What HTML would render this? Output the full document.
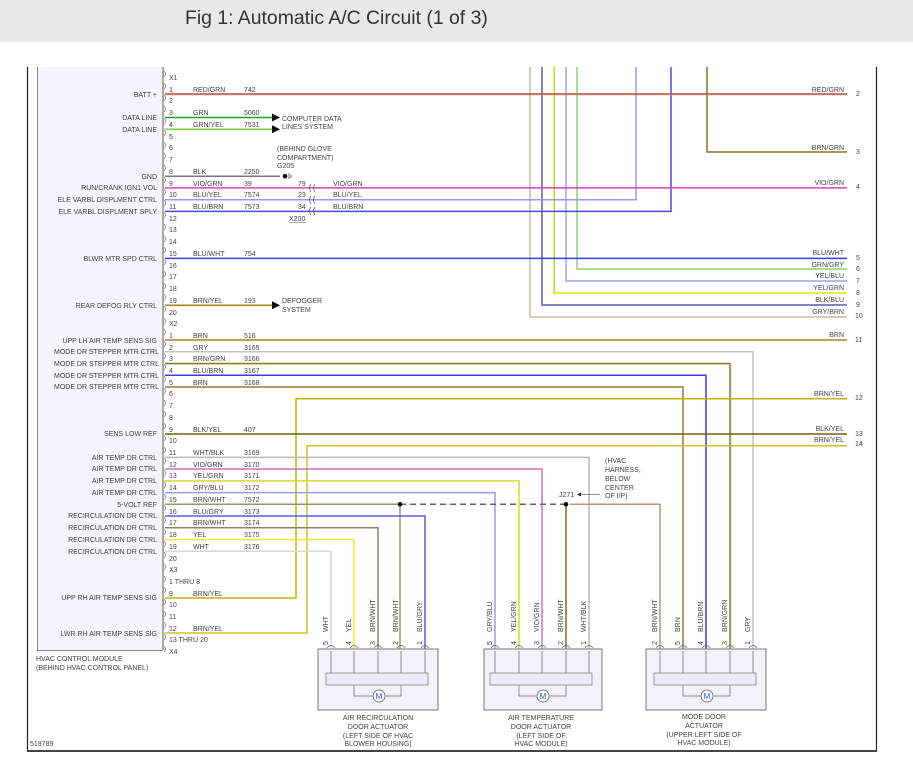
<!DOCTYPE html>
<html><head><meta charset="utf-8"><style>
html,body{margin:0;padding:0;background:#fff;width:913px;height:765px;overflow:hidden}
svg{display:block}
text{font-family:"Liberation Sans",sans-serif;font-size:7px;fill:#444}
.t{font-size:19.4px;fill:#333}
.r{text-anchor:end}
.m{text-anchor:middle}
</style></head><body>
<svg width="913" height="765" viewBox="0 0 913 765" xmlns="http://www.w3.org/2000/svg">
<rect x="0" y="0" width="913" height="42" fill="#e9e9e9"/>
<text x="185" y="24" class="t">Fig 1: Automatic A/C Circuit (1 of 3)</text>
<!-- frame -->
<line x1="27.5" y1="67" x2="27.5" y2="752" stroke="#222" stroke-width="1.2"/>
<line x1="876.5" y1="67" x2="876.5" y2="752" stroke="#222" stroke-width="1.2"/>
<line x1="27" y1="751" x2="877" y2="751" stroke="#444" stroke-width="2"/>
<!-- module -->
<rect x="37" y="67" width="126" height="583" fill="#f3f4fc"/>
<path d="M37.5 67V650.5H163" fill="none" stroke="#888" stroke-width="1"/>
<line x1="163" y1="67" x2="163" y2="650" stroke="#aaa" stroke-width="2"/>
<text x="36" y="661">HVAC CONTROL MODULE</text>
<text x="36" y="670">(BEHIND HVAC CONTROL PANEL)</text>
<text x="30" y="746">519789</text>

<!-- module labels -->
<g class="r">
<text x="157" y="97" class="r">BATT +</text>
<text x="157" y="120" class="r">DATA LINE</text>
<text x="157" y="132" class="r">DATA LINE</text>
<text x="157" y="179" class="r">GND</text>
<text x="157" y="190" class="r">RUN/CRANK IGN1 VOL</text>
<text x="157" y="202" class="r">ELE VARBL DISPLMENT CTRL</text>
<text x="157" y="214" class="r">ELE VARBL DISPLMENT SPLY</text>
<text x="157" y="261" class="r">BLWR MTR SPD CTRL</text>
<text x="157" y="308" class="r">REAR DEFOG RLY CTRL</text>
<text x="157" y="343" class="r">UPP LH AIR TEMP SENS SIG</text>
<text x="159" y="354" class="r">MODE DR STEPPER MTR CTRL</text>
<text x="159" y="366" class="r">MODE DR STEPPER MTR CTRL</text>
<text x="159" y="378" class="r">MODE DR STEPPER MTR CTRL</text>
<text x="159" y="389" class="r">MODE DR STEPPER MTR CTRL</text>
<text x="157" y="436" class="r">SENS LOW REF</text>
<text x="157" y="460" class="r">AIR TEMP DR CTRL</text>
<text x="157" y="471" class="r">AIR TEMP DR CTRL</text>
<text x="157" y="483" class="r">AIR TEMP DR CTRL</text>
<text x="157" y="495" class="r">AIR TEMP DR CTRL</text>
<text x="157" y="507" class="r">5-VOLT REF</text>
<text x="157" y="518" class="r">RECIRCULATION DR CTRL</text>
<text x="157" y="530" class="r">RECIRCULATION DR CTRL</text>
<text x="157" y="542" class="r">RECIRCULATION DR CTRL</text>
<text x="157" y="554" class="r">RECIRCULATION DR CTRL</text>
<text x="157" y="600" class="r">UPP RH AIR TEMP SENS SIG</text>
<text x="157" y="636" class="r">LWR RH AIR TEMP SENS SIG</text>
</g>

<!-- pin numbers -->
<g>
<text x="169" y="80">X1</text>
<text x="169" y="92">1</text><text x="169" y="103">2</text><text x="169" y="115">3</text><text x="169" y="127">4</text><text x="169" y="139">5</text>
<text x="169" y="150">6</text><text x="169" y="162">7</text><text x="169" y="174">8</text><text x="169" y="186">9</text><text x="169" y="197">10</text>
<text x="169" y="209">11</text><text x="169" y="221">12</text><text x="169" y="232">13</text><text x="169" y="244">14</text><text x="169" y="256">15</text>
<text x="169" y="268">16</text><text x="169" y="279">17</text><text x="169" y="291">18</text><text x="169" y="303">19</text><text x="169" y="315">20</text>
<text x="169" y="326">X2</text>
<text x="169" y="338">1</text><text x="169" y="350">2</text><text x="169" y="361">3</text><text x="169" y="373">4</text><text x="169" y="385">5</text>
<text x="169" y="396">6</text><text x="169" y="408">7</text><text x="169" y="420">8</text><text x="169" y="432">9</text><text x="169" y="443">10</text>
<text x="169" y="455">11</text><text x="169" y="467">12</text><text x="169" y="478">13</text><text x="169" y="490">14</text><text x="169" y="502">15</text>
<text x="169" y="514">16</text><text x="169" y="525">17</text><text x="169" y="537">18</text><text x="169" y="549">19</text><text x="169" y="561">20</text>
<text x="169" y="572">X3</text>
<text x="169" y="584">1 THRU 8</text><text x="169" y="596">9</text><text x="169" y="607">10</text><text x="169" y="619">11</text><text x="169" y="631">12</text>
<text x="169" y="642">13 THRU 20</text><text x="169" y="654">X4</text>
</g>
<g fill="none" stroke="#888" stroke-width="0.8">
<path d="M164 71q3 3 0 6M164 83q3 3 0 6M164 95q3 3 0 6M164 106q3 3 0 6M164 118q3 3 0 6M164 130q3 3 0 6M164 142q3 3 0 6M164 153q3 3 0 6M164 165q3 3 0 6M164 177q3 3 0 6M164 189q3 3 0 6M164 200q3 3 0 6M164 212q3 3 0 6M164 224q3 3 0 6M164 236q3 3 0 6M164 247q3 3 0 6M164 259q3 3 0 6M164 271q3 3 0 6M164 283q3 3 0 6M164 294q3 3 0 6M164 306q3 3 0 6M164 318q3 3 0 6"/>
<path d="M164 329q3 3 0 6M164 341q3 3 0 6M164 353q3 3 0 6M164 364q3 3 0 6M164 376q3 3 0 6M164 388q3 3 0 6M164 400q3 3 0 6M164 411q3 3 0 6M164 423q3 3 0 6M164 435q3 3 0 6M164 447q3 3 0 6M164 458q3 3 0 6M164 470q3 3 0 6M164 482q3 3 0 6M164 494q3 3 0 6M164 505q3 3 0 6M164 517q3 3 0 6M164 529q3 3 0 6M164 541q3 3 0 6M164 552q3 3 0 6M164 564q3 3 0 6"/>
<path d="M164 576q3 3 0 6M164 587q3 3 0 6M164 599q3 3 0 6M164 611q3 3 0 6M164 622q3 3 0 6M164 634q3 3 0 6M164 646q3 3 0 6"/>
</g>

<!-- color/number labels on left wires -->
<g>
<text x="193" y="92">RED/GRN</text><text x="244" y="92">742</text>
<text x="193" y="115">GRN</text><text x="244" y="115">5060</text>
<text x="193" y="127">GRN/YEL</text><text x="244" y="127">7531</text>
<text x="193" y="174">BLK</text><text x="244" y="174">2250</text>
<text x="193" y="186">VIO/GRN</text><text x="244" y="186">39</text>
<text x="193" y="197">BLU/YEL</text><text x="244" y="197">7574</text>
<text x="193" y="209">BLU/BRN</text><text x="244" y="209">7573</text>
<text x="193" y="256">BLU/WHT</text><text x="244" y="256">754</text>
<text x="193" y="303">BRN/YEL</text><text x="244" y="303">193</text>
<text x="193" y="338">BRN</text><text x="244" y="338">516</text>
<text x="193" y="350">GRY</text><text x="244" y="350">3165</text>
<text x="193" y="361">BRN/GRN</text><text x="244" y="361">3166</text>
<text x="193" y="373">BLU/BRN</text><text x="244" y="373">3167</text>
<text x="193" y="385">BRN</text><text x="244" y="385">3168</text>
<text x="193" y="432">BLK/YEL</text><text x="244" y="432">407</text>
<text x="193" y="455">WHT/BLK</text><text x="244" y="455">3169</text>
<text x="193" y="467">VIO/GRN</text><text x="244" y="467">3170</text>
<text x="193" y="478">YEL/GRN</text><text x="244" y="478">3171</text>
<text x="193" y="490">GRY/BLU</text><text x="244" y="490">3172</text>
<text x="193" y="502">BRN/WHT</text><text x="244" y="502">7572</text>
<text x="193" y="514">BLU/GRY</text><text x="244" y="514">3173</text>
<text x="193" y="525">BRN/WHT</text><text x="244" y="525">3174</text>
<text x="193" y="537">YEL</text><text x="244" y="537">3175</text>
<text x="193" y="549">WHT</text><text x="244" y="549">3176</text>
<text x="193" y="596">BRN/YEL</text>
<text x="193" y="631">BRN/YEL</text>
</g>

<!-- wires -->
<g fill="none" stroke-width="1.5">
<path d="M530 67V317H847" stroke="#c4bca8"/>
<path d="M542 67V305H847" stroke="#5a5aa8"/>
<path d="M554 67V293H847" stroke="#e6e600"/>
<path d="M554.5 67V293" stroke="#9ad060" stroke-width="0.6"/>
<path d="M566 67V281H847" stroke="#a0a0f0"/>
<path d="M577 67V269H847" stroke="#8ad070"/>
<path d="M165 199.7H636V67" stroke="#9898f0"/>
<path d="M165 211.4H671V67" stroke="#4a4af0"/>
<path d="M707 67V152H847" stroke="#8a7020"/>
<path d="M165 94H847" stroke="#d04040"/>
<path d="M165 95H847" stroke="#80c060" stroke-width="0.6"/>
<path d="M165 117.5H272" stroke="#2a9a2a"/>
<path d="M165 129.2H272" stroke="#7ad040"/>
<path d="M165 176.2H280" stroke="#777"/>
<path d="M165 187.9H847" stroke="#e040c0"/>
<path d="M165 258.4H847" stroke="#3a3af0"/>
<path d="M165 305.3H272" stroke="#a08420"/>
<path d="M165 340H847" stroke="#a08430"/>
<path d="M165 351.7H753V650" stroke="#c4c4c4"/>
<path d="M165 363.5H730V650" stroke="#8a7a30"/>
<path d="M165 364.5H731V650" stroke="#a0d090" stroke-width="0.6"/>
<path d="M165 375.2H706V650" stroke="#3a3af0"/>
<path d="M165 387H683V650" stroke="#9a7a30"/>
<path d="M165 598H296V398.7H847" stroke="#c8b000"/>
<path d="M165 434H847" stroke="#706010"/>
<path d="M165 633H307V445.7H847" stroke="#d4c020"/>
<path d="M165 457.4H589V650" stroke="#b8b8b8"/>
<path d="M165 469H542V650" stroke="#d070c0"/>
<path d="M165 480.9H519V650" stroke="#d0e020"/>
<path d="M165 492.6H495V650" stroke="#9a9af0"/>
<path d="M165 504.3H400V650" stroke="#a09070"/>
<path d="M400 504.3H566" stroke="#666" stroke-dasharray="6,4"/>
<path d="M566 504.3V650" stroke="#8a6a20"/>
<path d="M570 504.3H660V650" stroke="#b09a80"/>
<path d="M165 516H425V650" stroke="#5a5af0"/>
<path d="M165 527.8H378V650" stroke="#9a8060"/>
<path d="M165 539.6H354V650" stroke="#f0f020"/>
<path d="M165 551.3H331V650" stroke="#d8d8d8"/>
</g>
<circle cx="400" cy="504.3" r="2.3" fill="#111"/>
<circle cx="566" cy="504.3" r="2.3" fill="#111"/>
<path d="M272 113.5L280 117.5L272 121.5Z M272 125.2L280 129.2L272 133.2Z M272 301.3L280 305.3L272 309.3Z" fill="#111"/>
<text x="282" y="121">COMPUTER DATA</text><text x="282" y="129">LINES SYSTEM</text>
<text x="282" y="303">DEFOGGER</text><text x="282" y="312">SYSTEM</text>
<circle cx="285" cy="176.2" r="2.3" fill="#111"/>
<path d="M289 173v6M291 174.5v3.5" stroke="#333" stroke-width="0.7"/>
<text x="277" y="151">(BEHIND GLOVE</text><text x="277" y="160">COMPARTMENT)</text><text x="277" y="168">G205</text>
<text x="298" y="186">79</text><text x="298" y="197">23</text><text x="298" y="209">34</text>
<g fill="none" stroke="#555" stroke-width="0.7">
<path d="M311 184q-3 4 0 8M315 184q-3 4 0 8M311 196q-3 4 0 8M315 196q-3 4 0 8M311 207q-3 4 0 8M315 207q-3 4 0 8"/>
</g>
<text x="333" y="186">VIO/GRN</text><text x="333" y="197">BLU/YEL</text><text x="333" y="209">BLU/BRN</text>
<text x="289" y="221">X200</text><line x1="289" y1="222.5" x2="306" y2="222.5" stroke="#555" stroke-width="0.5"/>
<g>
<text x="844" y="92" class="r">RED/GRN</text><text x="856" y="96">2</text>
<text x="844" y="150" class="r">BRN/GRN</text><text x="856" y="154">3</text>
<text x="844" y="185" class="r">VIO/GRN</text><text x="856" y="189">4</text>
<text x="844" y="255" class="r">BLU/WHT</text><text x="856" y="260">5</text>
<text x="844" y="267" class="r">GRN/GRY</text><text x="856" y="271">6</text>
<text x="844" y="278" class="r">YEL/BLU</text><text x="856" y="283">7</text>
<text x="844" y="290" class="r">YEL/GRN</text><text x="856" y="295">8</text>
<text x="844" y="302" class="r">BLK/BLU</text><text x="856" y="307">9</text>
<text x="844" y="314" class="r">GRY/BRN</text><text x="855" y="318">10</text>
<text x="844" y="337" class="r">BRN</text><text x="855" y="342">11</text>
<text x="844" y="396" class="r">BRN/YEL</text><text x="855" y="400">12</text>
<text x="844" y="431" class="r">BLK/YEL</text><text x="855" y="436">13</text>
<text x="844" y="442" class="r">BRN/YEL</text><text x="855" y="446">14</text>
</g>
<text x="559" y="497">J271</text>
<path d="M600 494.5H580" stroke="#666" stroke-width="0.7"/><path d="M577 494.5l4-2v4z" fill="#222"/>
<text x="605" y="463">(HVAC</text><text x="605" y="472">HARNESS,</text><text x="605" y="481">BELOW</text><text x="605" y="490">CENTER</text><text x="605" y="498">OF I/P)</text>

<g>
<rect x="318" y="649" width="120" height="61" fill="#f2f2fb" stroke="#777"/>
<rect x="484" y="649" width="118" height="61" fill="#f2f2fb" stroke="#777"/>
<rect x="646" y="649" width="120" height="61" fill="#f2f2fb" stroke="#777"/>
<g stroke="#666" stroke-width="0.7" fill="none">
<path d="M331 651V673M354 651V673M378 651V673M401 651V673M425 651V673"/>
<path d="M495 651V673M519 651V673M542 651V673M566 651V673M589 651V673"/>
<path d="M660 651V673M683 651V673M706 651V673M730 651V673M753 651V673"/>
<path d="M354 685V696H372M386 696H401V685M519 685V696H536M550 696H566V685M683 685V696H700M714 696H730V685"/>
</g>
<rect x="326" y="673" width="102" height="12" fill="#eaeaf8" stroke="#777" stroke-width="0.7"/>
<rect x="490" y="673" width="102" height="12" fill="#eaeaf8" stroke="#777" stroke-width="0.7"/>
<rect x="654" y="673" width="102" height="12" fill="#eaeaf8" stroke="#777" stroke-width="0.7"/>
<circle cx="379" cy="696" r="6" fill="#fff" stroke="#555" stroke-width="0.8"/>
<circle cx="543" cy="696" r="6" fill="#fff" stroke="#555" stroke-width="0.8"/>
<circle cx="707" cy="696" r="6" fill="#fff" stroke="#555" stroke-width="0.8"/>
<text x="379" y="699" class="m" style="font-size:8px;fill:#2a5ad0">M</text>
<text x="543" y="699" class="m" style="font-size:8px;fill:#2a5ad0">M</text>
<text x="707" y="699" class="m" style="font-size:8px;fill:#2a5ad0">M</text>
<g fill="none" stroke="#666" stroke-width="0.7">
<path d="M327 648q4-5 8 0M350 648q4-5 8 0M374 648q4-5 8 0M397 648q4-5 8 0M421 648q4-5 8 0"/>
<path d="M491 648q4-5 8 0M515 648q4-5 8 0M538 648q4-5 8 0M562 648q4-5 8 0M585 648q4-5 8 0"/>
<path d="M656 648q4-5 8 0M679 648q4-5 8 0M702 648q4-5 8 0M726 648q4-5 8 0M749 648q4-5 8 0"/>
</g>
<g>
<text transform="translate(328,645) rotate(-90)">5</text><text transform="translate(351,645) rotate(-90)">4</text><text transform="translate(375,645) rotate(-90)">3</text><text transform="translate(398,645) rotate(-90)">2</text><text transform="translate(422,645) rotate(-90)">1</text>
<text transform="translate(328,632) rotate(-90)">WHT</text><text transform="translate(351,632) rotate(-90)">YEL</text><text transform="translate(375,632) rotate(-90)">BRN/WHT</text><text transform="translate(398,632) rotate(-90)">BRN/WHT</text><text transform="translate(422,632) rotate(-90)">BLU/GRY</text>
<text transform="translate(492,645) rotate(-90)">5</text><text transform="translate(516,645) rotate(-90)">4</text><text transform="translate(539,645) rotate(-90)">3</text><text transform="translate(563,645) rotate(-90)">2</text><text transform="translate(586,645) rotate(-90)">1</text>
<text transform="translate(492,632) rotate(-90)">GRY/BLU</text><text transform="translate(516,632) rotate(-90)">YEL/GRN</text><text transform="translate(539,632) rotate(-90)">VIO/GRN</text><text transform="translate(563,632) rotate(-90)">BRN/WHT</text><text transform="translate(586,632) rotate(-90)">WHT/BLK</text>
<text transform="translate(657,645) rotate(-90)">2</text><text transform="translate(680,645) rotate(-90)">5</text><text transform="translate(703,645) rotate(-90)">4</text><text transform="translate(727,645) rotate(-90)">3</text><text transform="translate(750,645) rotate(-90)">1</text>
<text transform="translate(657,632) rotate(-90)">BRN/WHT</text><text transform="translate(680,632) rotate(-90)">BRN</text><text transform="translate(703,632) rotate(-90)">BLU/BRN</text><text transform="translate(727,632) rotate(-90)">BRN/GRN</text><text transform="translate(750,632) rotate(-90)">GRY</text>
</g>
<g>
<text x="378" y="720" class="m">AIR RECIRCULATION</text><text x="378" y="729" class="m">DOOR ACTUATOR</text><text x="378" y="738" class="m">(LEFT SIDE OF HVAC</text><text x="378" y="746" class="m">BLOWER HOUSING)</text>
<text x="541" y="720" class="m">AIR TEMPERATURE</text><text x="541" y="729" class="m">DOOR ACTUATOR</text><text x="541" y="738" class="m">(LEFT SIDE OF</text><text x="541" y="746" class="m">HVAC MODULE)</text>
<text x="704" y="719" class="m">MODE DOOR</text><text x="704" y="728" class="m">ACTUATOR</text><text x="704" y="737" class="m">(UPPER LEFT SIDE OF</text><text x="704" y="745" class="m">HVAC MODULE)</text>
</g>
</g>
</svg>
</body></html>
